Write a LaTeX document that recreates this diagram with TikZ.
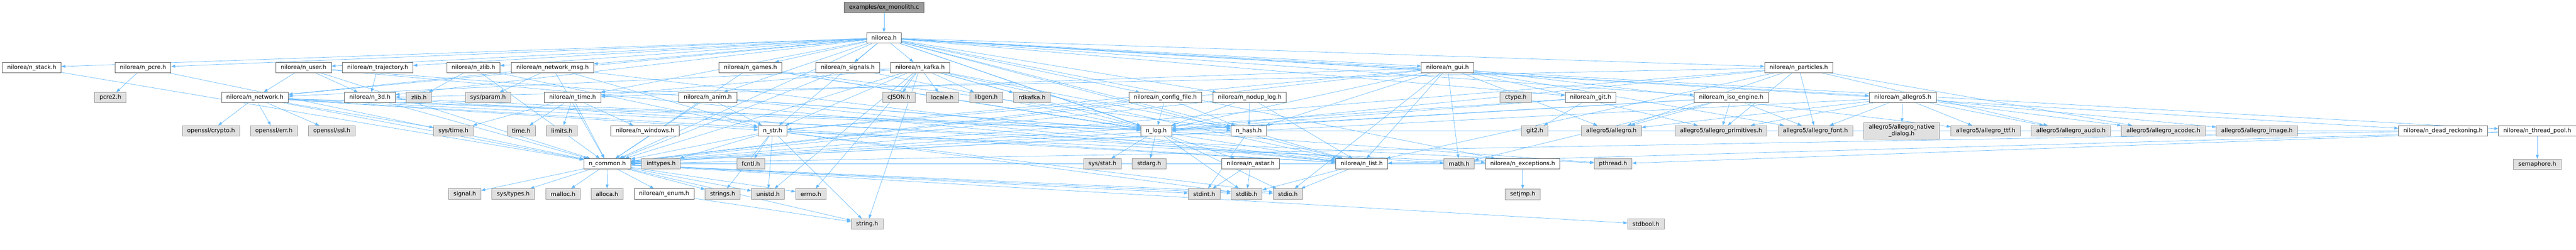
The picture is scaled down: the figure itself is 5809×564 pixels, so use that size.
\documentclass[tikz,border=0pt]{standalone}
\usepackage{fontspec}
\setmainfont{DejaVu Sans}
\usetikzlibrary{positioning,arrows.meta,backgrounds}

\definecolor{edgeblue}{HTML}{63B8FF}
\definecolor{nodeline}{HTML}{666666}
\definecolor{sysline}{HTML}{999999}
\definecolor{sysfill}{HTML}{E0E0E0}
\definecolor{rootfill}{HTML}{999999}

\begin{document}
\begin{tikzpicture}[x=1pt,y=1pt,node distance=24pt,
  >={Triangle[length=9pt,width=6.5pt]},
  hdr/.style={draw=nodeline,fill=white,line width=1pt,inner xsep=11pt,inner ysep=2pt,
    minimum height=23.5pt,font=\fontsize{13pt}{15pt}\selectfont},
  sys/.style={hdr,draw=sysline,fill=sysfill},
  root/.style={hdr,fill=rootfill}]
\useasboundingbox (0,0) rectangle (5809,-564);

% top
\node[root] (root) at (1993.5,-16.5) {examples/ex\_monolith.c};
\node[hdr, below=44.5pt of root] (nilorea) {nilorea.h};

% row 2
\node[hdr] (stack) at (71.7,-152.5) {nilorea/n\_stack.h};
\node[hdr, right=120.3pt of stack] (pcre) {nilorea/n\_pcre.h};
\node[hdr, right=235.3pt of pcre] (user) {nilorea/n\_user.h};
\node[hdr, right= of user] (traj) {nilorea/n\_trajectory.h};
\node[hdr, right=75pt of traj] (nzlib) {nilorea/n\_zlib.h};
\node[hdr, right=25pt of nzlib] (netmsg) {nilorea/n\_network\_msg.h};
\node[hdr, right=282pt of netmsg] (games) {nilorea/n\_games.h};
\node[hdr, right=76pt of games] (signals) {nilorea/n\_signals.h};
\node[hdr, right= of signals] (kafka) {nilorea/n\_kafka.h};
\node[hdr, right=1063pt of kafka] (gui) {nilorea/n\_gui.h};
\node[hdr, right=655pt of gui] (particles) {nilorea/n\_particles.h};

% row 3
\node[sys] (pcretwo) at (249,-220.5) {pcre2.h};
\node[hdr, right=214pt of pcretwo] (network) {nilorea/n\_network.h};
\node[hdr, right=125.7pt of network] (threed) {nilorea/n\_3d.h};
\node[sys, right= of threed] (zlibh) {zlib.h};
\node[sys, right=75.3pt of zlibh] (sysparam) {sys/param.h};
\node[hdr, right=75pt of sysparam] (ntime) {nilorea/n\_time.h};
\node[hdr, right=175pt of ntime] (anim) {nilorea/n\_anim.h};
\node[sys, right=328pt of anim] (cjson) {cJSON.h};
\node[sys, right= of cjson] (locale) {locale.h};
\node[sys, right= of locale] (libgen) {libgen.h};
\node[sys, right= of libgen] (rdkafka) {rdkafka.h};
\node[hdr, right=176pt of rdkafka] (config) {nilorea/n\_config\_file.h};
\node[hdr, right=25pt of config] (nodup) {nilorea/n\_nodup\_log.h};
\node[sys, right=481pt of nodup] (ctype) {ctype.h};
\node[hdr, right=75pt of ctype] (git) {nilorea/n\_git.h};
\node[hdr, right=175pt of git] (iso) {nilorea/n\_iso\_engine.h};
\node[hdr, right=227pt of iso] (alfive) {nilorea/n\_allegro5.h};

% row 4
\node[sys] (crypto) at (476,-295.5) {openssl/crypto.h};
\node[sys, right=23pt of crypto] (err) {openssl/err.h};
\node[sys, right= of err] (ssl) {openssl/ssl.h};
\node[sys, right=176pt of ssl] (systime) {sys/time.h};
\node[sys, right=75pt of systime] (timeh) {time.h};
\node[sys, right= of timeh] (limits) {limits.h};
\node[hdr, right=75pt of limits] (windows) {nilorea/n\_windows.h};
\node[hdr, right=177pt of windows] (str) {n\_str.h};
\node[hdr, right=797pt of str] (log) {n\_log.h};
\node[hdr, right=133pt of log] (hash) {n\_hash.h};
\node[sys, right=574pt of hash] (gittwo) {git2.h};
\node[sys, right=74pt of gittwo] (allegro) {allegro5/allegro.h};
\node[sys, right=75pt of allegro] (prim) {allegro5/allegro\_primitives.h};
\node[sys, right= of prim] (font) {allegro5/allegro\_font.h};
\node[sys, right= of font, align=center, inner ysep=5pt] (dialog) {allegro5/allegro\_native\\\_dialog.h};
\node[sys, right=25pt of dialog] (ttf) {allegro5/allegro\_ttf.h};
\node[sys, right= of ttf] (audio) {allegro5/allegro\_audio.h};
\node[sys, right= of audio] (acodec) {allegro5/allegro\_acodec.h};
\node[sys, right= of acodec] (image) {allegro5/allegro\_image.h};
\node[hdr, right=227pt of image] (deadrec) {nilorea/n\_dead\_reckoning.h};
\node[hdr, right= of deadrec] (pool) {nilorea/n\_thread\_pool.h};

% row 5
\node[hdr] (common) at (1369.5,-370) {n\_common.h};
\node[sys, right= of common] (inttypes) {inttypes.h};
\node[sys, right=126pt of inttypes] (fcntl) {fcntl.h};
\node[sys, right=718pt of fcntl] (sysstat) {sys/stat.h};
\node[sys, right= of sysstat] (stdarg) {stdarg.h};
\node[hdr, right=125pt of stdarg] (astar) {nilorea/n\_astar.h};
\node[hdr, right=126pt of astar] (list) {nilorea/n\_list.h};
\node[sys, right=126pt of list] (math) {math.h};
\node[hdr, right= of math] (except) {nilorea/n\_exceptions.h};
\node[sys, right=76pt of except] (pthread) {pthread.h};
\node[sys, below=51pt of pool] (sema) {semaphore.h};

% row 6
\node[sys] (signal) at (1048,-438) {signal.h};
\node[sys, right= of signal] (systypes) {sys/types.h};
\node[sys, right=25pt of systypes] (malloc) {malloc.h};
\node[sys, right=23pt of malloc] (alloca) {alloca.h};
\node[hdr, right= of alloca] (enum) {nilorea/n\_enum.h};
\node[sys, right= of enum] (strings) {strings.h};
\node[sys, right=25pt of strings] (unistd) {unistd.h};
\node[sys, right= of unistd] (errno) {errno.h};
\node[sys, right=816pt of errno] (stdint) {stdint.h};
\node[sys, right= of stdint] (stdlib) {stdlib.h};
\node[sys, right= of stdlib] (stdio) {stdio.h};
\node[sys, below=44.5pt of except] (setjmp) {setjmp.h};

% row 7
\node[sys] (string) at (1955.5,-506) {string.h};
\node[sys] (stdbool) at (3711.5,-506) {stdbool.h};

\begin{pgfonlayer}{background}
\begin{scope}[edgeblue, line width=0.8pt]
\path[draw,->] (root) -- (nilorea);
% nilorea.h
\path[draw,->] (nilorea) -- (stack);
\path[draw,->] (nilorea) -- (pcre);
\path[draw,->] (nilorea) -- (user);
\path[draw,->] (nilorea) -- (traj);
\path[draw,->] (nilorea) -- (nzlib);
\path[draw,->] (nilorea) -- (netmsg);
\path[draw,->] (nilorea) -- (games);
\path[draw,->] (nilorea) -- (signals);
\path[draw,->] (nilorea) -- (kafka);
\path[draw,->] (nilorea) -- (gui);
\path[draw,->] (nilorea) -- (particles);
\path[draw,->] (nilorea) -- (network);
\path[draw,->] (nilorea) -- (threed);
\path[draw,->] (nilorea) -- (ntime);
\path[draw,->] (nilorea) -- (anim);
\path[draw,->] (nilorea) -- (config);
\path[draw,->] (nilorea) -- (nodup);
\path[draw,->] (nilorea) -- (git);
\path[draw,->] (nilorea) -- (iso);
\path[draw,->] (nilorea) -- (alfive);
\path[draw,->] (nilorea) -- (str);
\path[draw,->] (nilorea) -- (log);
\path[draw,->] (nilorea) -- (hash);
\path[draw,->] (nilorea) -- (astar);
\path[draw,->] (nilorea) -- (list);
\path[draw,->] (nilorea) -- (except);
\path[draw,->] (nilorea) -- (common);
\path[draw,->] (nilorea) -- (deadrec);
\path[draw,->] (nilorea) -- (pool);
% row 2 headers
\path[draw,->] (stack) -- (common);
\path[draw,->] (pcre) -- (pcretwo);
\path[draw,->] (pcre) -- (common);
\path[draw,->] (user) -- (network);
\path[draw,->] (user) -- (threed);
\path[draw,->] (user) -- (common);
\path[draw,->] (user) -- (log);
\path[draw,->] (user) -- (list);
\path[draw,->] (traj) -- (threed);
\path[draw,->] (nzlib) -- (zlibh);
\path[draw,->] (nzlib) -- (str);
\path[draw,->] (nzlib) -- (common);
\path[draw,->] (netmsg) -- (network);
\path[draw,->] (netmsg) -- (sysparam);
\path[draw,->] (netmsg) -- (common);
\path[draw,->] (netmsg) -- (str);
\path[draw,->] (netmsg) -- (list);
\path[draw,->] (games) -- (common);
\path[draw,->] (games) -- (log);
\path[draw,->] (games) -- (list);
\path[draw,->] (games) -- (hash);
\path[draw,->] (signals) -- (common);
\path[draw,->] (signals) -- (log);
\path[draw,->] (kafka) -- (cjson);
\path[draw,->] (kafka) -- (locale);
\path[draw,->] (kafka) -- (libgen);
\path[draw,->] (kafka) -- (rdkafka);
\path[draw,->] (kafka) -- (string);
\path[draw,->] (kafka) -- (unistd);
\path[draw,->] (kafka) -- (errno);
\path[draw,->] (kafka) -- (common);
\path[draw,->] (kafka) -- (log);
\path[draw,->] (kafka) -- (str);
\path[draw,->] (kafka) -- (list);
\path[draw,->] (kafka) -- (hash);
\path[draw,->] (kafka) -- (ntime);
\path[draw,->] (kafka) -- (network);
\path[draw,->] (gui) -- (common);
\path[draw,->] (gui) -- (log);
\path[draw,->] (gui) -- (list);
\path[draw,->] (gui) -- (str);
\path[draw,->] (gui) -- (hash);
\path[draw,->] (gui) -- (ntime);
\path[draw,->] (gui) -- (stdio);
\path[draw,->] (gui) -- (math);
\path[draw,->] (gui) -- (allegro);
\path[draw,->] (gui) -- (prim);
\path[draw,->] (gui) -- (font);
\path[draw,->] (gui) -- (ttf);
\path[draw,->] (particles) -- (common);
\path[draw,->] (particles) -- (log);
\path[draw,->] (particles) -- (list);
\path[draw,->] (particles) -- (threed);
\path[draw,->] (particles) -- (allegro);
\path[draw,->] (particles) -- (prim);
\path[draw,->] (particles) -- (font);
\path[draw,->] (particles) -- (audio);
\path[draw,->] (particles) -- (acodec);
% row 3 headers
\path[draw,->] (network) -- (crypto);
\path[draw,->] (network) -- (err);
\path[draw,->] (network) -- (ssl);
\path[draw,->] (network) -- (systime);
\path[draw,->] (network) -- (common);
\path[draw,->] (network) -- (str);
\path[draw,->] (network) -- (list);
\path[draw,->] (network) -- (hash);
\path[draw,->] (network) -- (log);
\path[draw,->] (network) -- (pthread);
\path[draw,->] (threed) -- (common);
\path[draw,->] (threed) -- (log);
\path[draw,->] (threed) -- (math);
\path[draw,->] (ntime) -- (systime);
\path[draw,->] (ntime) -- (timeh);
\path[draw,->] (ntime) -- (limits);
\path[draw,->] (ntime) -- (common);
\path[draw,->] (ntime) -- (windows);
\path[draw,->] (anim) -- (common);
\path[draw,->] (anim) -- (str);
\path[draw,->] (anim) -- (log);
\path[draw,->] (anim) -- (list);
\path[draw,->] (config) -- (common);
\path[draw,->] (config) -- (log);
\path[draw,->] (config) -- (hash);
\path[draw,->] (config) -- (str);
\path[draw,->] (nodup) -- (common);
\path[draw,->] (nodup) -- (log);
\path[draw,->] (nodup) -- (hash);
\path[draw,->] (nodup) -- (list);
\path[draw,->] (git) -- (gittwo);
\path[draw,->] (git) -- (common);
\path[draw,->] (git) -- (log);
\path[draw,->] (iso) -- (allegro);
\path[draw,->] (iso) -- (prim);
\path[draw,->] (iso) -- (font);
\path[draw,->] (iso) -- (common);
\path[draw,->] (iso) -- (log);
\path[draw,->] (iso) -- (math);
\path[draw,->] (alfive) -- (allegro);
\path[draw,->] (alfive) -- (prim);
\path[draw,->] (alfive) -- (font);
\path[draw,->] (alfive) -- (dialog);
\path[draw,->] (alfive) -- (ttf);
\path[draw,->] (alfive) -- (audio);
\path[draw,->] (alfive) -- (acodec);
\path[draw,->] (alfive) -- (image);
\path[draw,->] (alfive) -- (common);
% row 4 headers
\path[draw,->] (str) -- (common);
\path[draw,->] (str) -- (list);
\path[draw,->] (str) -- (except);
\path[draw,->] (str) -- (inttypes);
\path[draw,->] (str) -- (fcntl);
\path[draw,->] (str) -- (strings);
\path[draw,->] (str) -- (unistd);
\path[draw,->] (str) -- (string);
\path[draw,->] (str) -- (stdio);
\path[draw,->] (str) -- (stdlib);
\path[draw,->] (log) -- (sysstat);
\path[draw,->] (log) -- (stdarg);
\path[draw,->] (log) -- (stdlib);
\path[draw,->] (log) -- (stdio);
\path[draw,->] (log) -- (pthread);
\path[draw,->] (hash) -- (stdint);
\path[draw,->] (hash) -- (common);
\path[draw,->] (hash) -- (list);
\path[draw,->] (deadrec) -- (common);
\path[draw,->] (deadrec) -- (log);
\path[draw,->] (pool) -- (sema);
\path[draw,->] (pool) -- (pthread);
\path[draw,->] (pool) -- (list);
% row 5 headers
\path[draw,->] (astar) -- (stdint);
\path[draw,->] (astar) -- (stdlib);
\path[draw,->] (list) -- (stdio);
\path[draw,->] (list) -- (stdlib);
\path[draw,->] (except) -- (setjmp);
\path[draw,->] (except) -- (common);
\path[draw,->] (common) -- (signal);
\path[draw,->] (common) -- (systypes);
\path[draw,->] (common) -- (malloc);
\path[draw,->] (common) -- (alloca);
\path[draw,->] (common) -- (enum);
\path[draw,->] (common) -- (strings);
\path[draw,->] (common) -- (unistd);
\path[draw,->] (common) -- (errno);
\path[draw,->] (common) -- (string);
\path[draw,->] (common) -- (stdlib);
\path[draw,->] (common) -- (stdio);
\path[draw,->] (common) -- (stdint);
\path[draw,->] (common) -- (stdbool);
\path[draw,->] (enum) -- (string);
\end{scope}
\end{pgfonlayer}
\end{tikzpicture}
\end{document}
